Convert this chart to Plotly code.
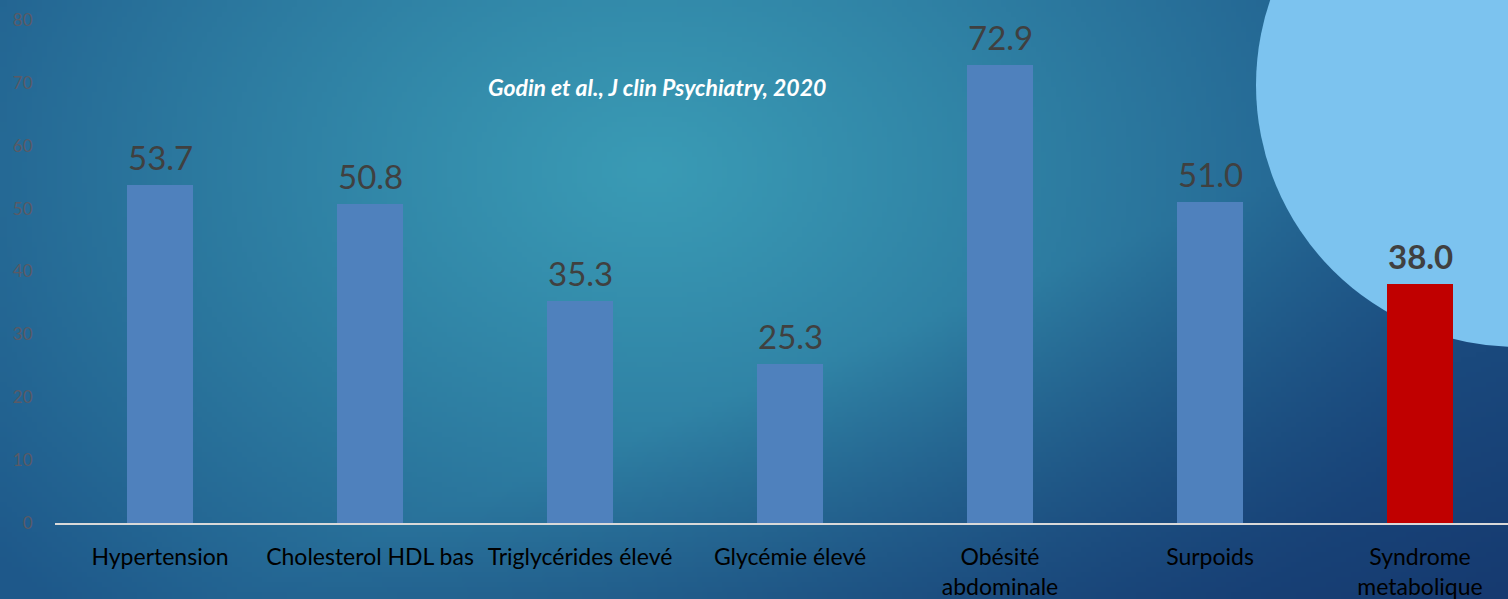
import base64, struct, zlib
import numpy as np
import plotly.graph_objects as go

categories = ["Hypertension", "Cholesterol HDL bas", "Triglycérides élevé", "Glycémie élevé",
              "Obésité<br>abdominale", "Surpoids", "Syndrome<br>metabolique"]
values = [53.7, 50.8, 35.3, 25.3, 72.9, 51.0, 38.0]
value_labels = ["53.7", "50.8", "35.3", "25.3", "72.9", "51.0", "<b>38.0</b>"]
bar_colors = ["#4F81BD"] * 6 + ["#C00000"]
y_ticks = [0, 10, 20, 30, 40, 50, 60, 70, 80]
source = "<b><i>Godin et al., J clin Psychiatry, 2020</i></b>"

W, H = 1508, 599
ML, MR, MT, MB = 55, 0, 20, 76
PW, PH = W - ML - MR, H - MT - MB


def px2paper(px, py):
    return (px - ML) / PW, (H - MB - py) / PH


# ---- background radial gradient as an embedded PNG ----
gw, gh = 302, 120
xs = (np.arange(gw) + 0.5) * W / gw
ys = (np.arange(gh) + 0.5) * H / gh
X, Y = np.meshgrid(xs, ys)
d = np.sqrt(((X - 650) / 850) ** 2 + ((Y - 170) / 620) ** 2)
t = np.clip(d, 0, 1) ** 1.1
C = np.array([58, 155, 181], float)
E = np.array([30, 88, 138], float)
D = np.array([22, 58, 112], float)
img = C[None, None, :] * (1 - t[..., None]) + E[None, None, :] * t[..., None]
s = np.clip((X / W + Y / H - 1.15) / 0.85, 0, 1)[..., None]
img = img * (1 - s) + D[None, None, :] * s
img = np.clip(img, 0, 255).astype(np.uint8)


def make_png(arr):
    h, w, _ = arr.shape
    raw = b"".join(b"\x00" + arr[i].tobytes() for i in range(h))

    def chunk(tag, data):
        c = struct.pack(">I", len(data)) + tag + data
        return c + struct.pack(">I", zlib.crc32(tag + data) & 0xFFFFFFFF)

    return (b"\x89PNG\r\n\x1a\n" + chunk(b"IHDR", struct.pack(">IIBBBBB", w, h, 8, 2, 0, 0, 0))
            + chunk(b"IDAT", zlib.compress(raw, 9)) + chunk(b"IEND", b""))


bg_uri = "data:image/png;base64," + base64.b64encode(make_png(img)).decode()

fig = go.Figure()
fig.add_trace(go.Bar(
    x=categories, y=values, marker=dict(color=bar_colors, line=dict(width=0)),
    width=0.315, hoverinfo="skip"))

for c, v, lab in zip(categories, values, value_labels):
    fig.add_annotation(x=c, y=v, text=lab, showarrow=False, xanchor="center",
                       yanchor="bottom", yshift=6,
                       font=dict(family="Lato", size=33, color="#404040"))

x0, y0 = px2paper(0, 0)
fig.add_layout_image(source=bg_uri, xref="paper", yref="paper", x=x0, y=y0,
                     sizex=W / PW, sizey=H / PH, xanchor="left", yanchor="top",
                     sizing="stretch", layer="below")

cx, cy, r = 1518, 85, 262
a0, b0 = px2paper(cx - r, cy + r)
a1, b1 = px2paper(cx + r, cy - r)
fig.add_shape(type="circle", xref="paper", yref="paper", x0=a0, y0=b0, x1=a1, y1=b1,
              fillcolor="#7CC3EF", line=dict(width=0), layer="below")

tx, ty = px2paper(657, 87)
fig.add_annotation(xref="paper", yref="paper", x=tx, y=ty, text=source, showarrow=False,
                   xanchor="center", yanchor="middle",
                   font=dict(family="Lato", size=23, color="white"))

fig.update_layout(
    width=W, height=H, margin=dict(l=ML, r=MR, t=MT, b=MB, autoexpand=False),
    paper_bgcolor="#1f5a8a", plot_bgcolor="rgba(0,0,0,0)",
    showlegend=False, bargap=0.0,
    xaxis=dict(range=[-0.5, -0.5 + PW / 210.0], showgrid=False, zeroline=False,
               showline=True, linecolor="#D9D9D9", linewidth=2, automargin=False,
               ticks="outside", ticklen=12, tickcolor="rgba(0,0,0,0)",
               tickfont=dict(family="Lato", size=23, color="#000000")),
    yaxis=dict(range=[0, 80], tickvals=y_ticks, showgrid=False, zeroline=False, showline=False,
               automargin=False, ticks="outside", ticklen=18, tickcolor="rgba(0,0,0,0)",
               tickfont=dict(family="Lato", size=17, color="#5A5A66")),
)

fig.write_html("out.html", config={"displayModeBar": False},
               post_script="document.body.style.margin='0';document.body.style.overflow='hidden';")
